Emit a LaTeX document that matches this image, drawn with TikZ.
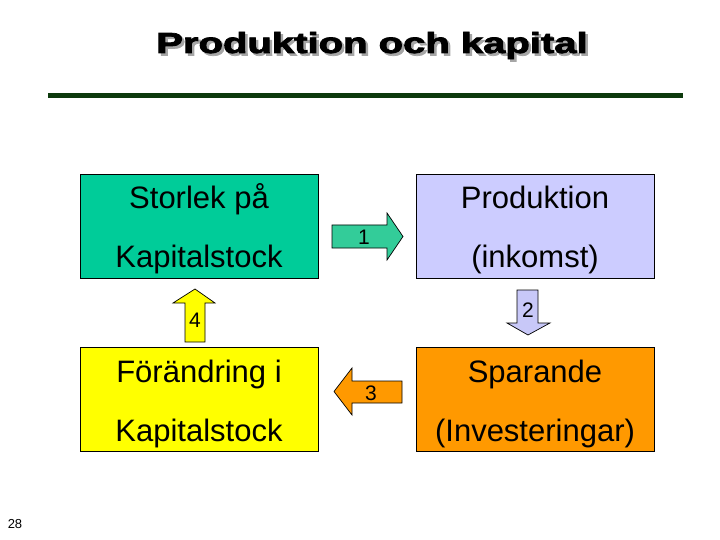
\documentclass[tikz,border=0pt]{standalone}
\usepackage{fontspec}
\setmainfont{Liberation Sans}
\newfontfamily\titlefont[FakeBold=2.5]{Liberation Sans Bold}
\definecolor{boxgreen}{RGB}{0,204,153}
\definecolor{arrgreen}{RGB}{51,204,153}
\definecolor{boxlav}{RGB}{204,204,255}
\definecolor{arrlav}{RGB}{200,200,248}
\definecolor{boxyel}{RGB}{255,255,0}
\definecolor{boxorg}{RGB}{255,153,0}
\definecolor{rulegreen}{RGB}{13,58,13}
\begin{document}
\begin{tikzpicture}[x=1pt,y=-1pt,
  box/.style={draw=black,line width=0.8pt},
  boxtext/.style={anchor=base,inner sep=0pt,font=\fontsize{31}{31}\selectfont},
  blockarrow/.style={draw=black,line width=0.7pt},
  arrlabel/.style={inner sep=0pt,font=\fontsize{21}{21}\selectfont}]
\useasboundingbox (0,0) rectangle (720,540);
% title
\node[anchor=base,inner sep=0pt,text=black!35] (titleshadow) at (374.5,55.5)
  {\scalebox{1.38}[1]{\fontsize{29}{29}\titlefont Produktion och kapital}};
\node[anchor=base,inner sep=0pt] (title) at (372,53)
  {\scalebox{1.38}[1]{\fontsize{29}{29}\titlefont Produktion och kapital}};
\fill[rulegreen] (48,93) rectangle (683,98);
% boxes
\draw[box,fill=boxgreen] (80,174) rectangle (318,278);
\draw[box,fill=boxlav] (416,174) rectangle (654,278);
\draw[box,fill=boxyel] (80,347) rectangle (318,451);
\draw[box,fill=boxorg] (416,347) rectangle (654,451);
\node[boxtext] (t1a) at (199,209) {Storlek på};
\node[boxtext] (t1b) at (199,267) {Kapitalstock};
\node[boxtext] (t2a) at (535,209) {Produktion};
\node[boxtext] (t2b) at (535,267) {(inkomst)};
\node[boxtext] (t3a) at (199,382) {Förändring i};
\node[boxtext] (t3b) at (199,441) {Kapitalstock};
\node[boxtext] (t4a) at (535,382) {Sparande};
\node[boxtext] (t4b) at (535,441) {(Investeringar)};
% block arrows
\draw[blockarrow,fill=arrgreen] (332,225) -- (387,225) -- (387,213) -- (403,236.5)
  -- (387,260) -- (387,248) -- (332,248) -- cycle;
\draw[blockarrow,fill=arrlav] (517,290) -- (538,290) -- (538,323) -- (550,323)
  -- (528,335) -- (507,323) -- (517,323) -- cycle;
\draw[blockarrow,fill=boxorg] (402,381) -- (352,381) -- (352,368) -- (334,391.5)
  -- (352,415) -- (352,403) -- (402,403) -- cycle;
\draw[blockarrow,fill=boxyel] (185,342) -- (185,303) -- (173,303) -- (195,289)
  -- (215,303) -- (205,303) -- (205,342) -- cycle;
\node[arrlabel] (l1) at (364,237) {1};
\node[arrlabel] (l2) at (528,310) {2};
\node[arrlabel] (l3) at (371,393) {3};
\node[arrlabel] (l4) at (195,320) {4};
% page number
\node[inner sep=0pt,font=\fontsize{13}{13}\selectfont] (page) at (15,524) {28};
\end{tikzpicture}
\end{document}
